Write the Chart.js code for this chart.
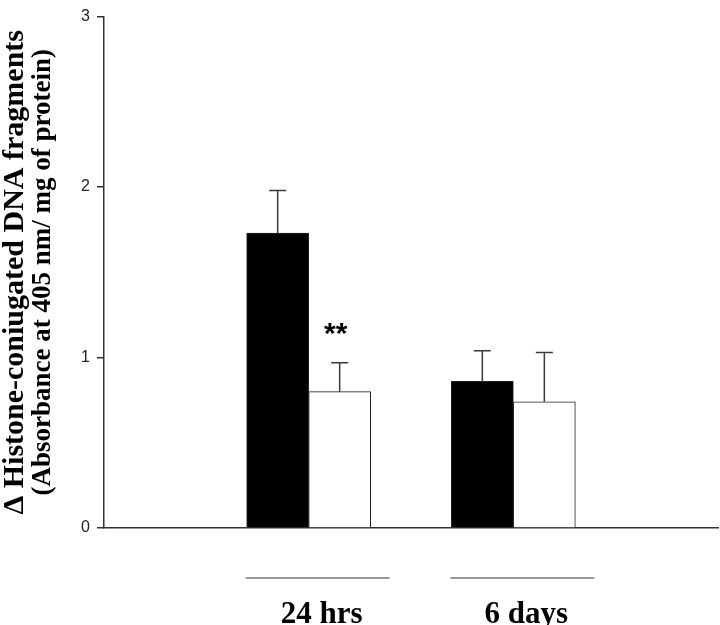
<!DOCTYPE html>
<html>
<head>
<meta charset="utf-8">
<script src="https://cdn.jsdelivr.net/npm/chart.js@4.4.1/dist/chart.umd.min.js"></script>
<style>
  html, body { margin: 0; padding: 0; background: #fff; }
  #wrap { width: 720px; height: 625px; }
</style>
</head>
<body>
<div id="wrap"><canvas id="fragChart" width="720" height="625"></canvas></div>
<script>
// values
const categories = ['24 hrs', '6 days'];
const categoryX = [1, 2];
const controlMeans = [1.73, 0.86];
const controlErrors = [0.25, 0.18];
const treatedMeans = [0.80, 0.74];
const treatedErrors = [0.17, 0.29];
const controlMarks = ['', ''];
const treatedMarks = ['**', ''];
const yTicks = [0, 1, 2, 3];

const titleLine1 = '\u0394 Histone-coniugated DNA fragments';
const titleLine2 = '(Absorbance at 405 nm/ mg of protein)';

const serif = '"Liberation Serif", "Times New Roman", serif';
const sans = '"Liberation Sans", Arial, sans-serif';
const labelShift = 13;

// upper error bars + significance marks
const errorBars = {
    id: 'errorBars',
    afterDatasetsDraw(chart) {
        const ctx = chart.ctx;
        const yScale = chart.scales.y;
        ctx.save();
        chart.data.datasets.forEach((ds, i) => {
            chart.getDatasetMeta(i).data.forEach((bar, j) => {
                const top = yScale.getPixelForValue(ds.means[j] + ds.errors[j]);
                ctx.strokeStyle = '#3a3a3a';
                ctx.lineWidth = 1.5;
                ctx.beginPath();
                ctx.moveTo(bar.x, bar.y);
                ctx.lineTo(bar.x, top);
                ctx.moveTo(bar.x - 8.5, top);
                ctx.lineTo(bar.x + 8.5, top);
                ctx.stroke();
                if (ds.marks[j]) {
                    ctx.fillStyle = '#000';
                    ctx.font = 'bold 30px ' + sans;
                    ctx.textAlign = 'center';
                    ctx.textBaseline = 'alphabetic';
                    ctx.fillText(ds.marks[j], bar.x - 4, top - 20);
                }
            });
        });
        ctx.restore();
    }
};

// short rule above each group label
const groupLines = {
    id: 'groupLines',
    afterDraw(chart) {
        const xScale = chart.scales.x;
        const ctx = chart.ctx;
        const y = chart.chartArea.bottom + 50;
        ctx.save();
        ctx.strokeStyle = '#7a7a7a';
        ctx.lineWidth = 1.5;
        xScale.ticks.forEach(t => {
            const px = xScale.getPixelForValue(t.value) + labelShift - 4;
            ctx.beginPath();
            ctx.moveTo(px - 72, y);
            ctx.lineTo(px + 72, y);
            ctx.stroke();
        });
        ctx.restore();
    }
};

new Chart(document.getElementById('fragChart'), {
    type: 'bar',
    data: {
        datasets: [{
            label: 'Control',
            data: categoryX.map((x, i) => ({ x: x, y: controlMeans[i] })),
            means: controlMeans,
            errors: controlErrors,
            marks: controlMarks,
            backgroundColor: '#000',
            borderColor: '#222',
            borderWidth: 1,
            barThickness: 62
        }, {
            label: 'Treated',
            data: categoryX.map((x, i) => ({ x: x, y: treatedMeans[i] })),
            means: treatedMeans,
            errors: treatedErrors,
            marks: treatedMarks,
            backgroundColor: '#fff',
            borderColor: '#222',
            borderWidth: 1,
            barThickness: 62
        }]
    },
    options: {
        responsive: false,
        animation: false,
        layout: { padding: { top: 11, right: 2, left: 0, bottom: 0 } },
        plugins: {
            legend: { display: false },
            tooltip: { enabled: false }
        },
        scales: {
            x: {
                type: 'linear',
                offset: false,
                min: 0,
                max: 3,
                grid: { display: false, offset: false },
                border: { display: true, color: '#333', width: 1.5 },
                afterBuildTicks: axis => { axis.ticks = categoryX.map(v => ({ value: v })); },
                afterFit: axis => { axis.height = 97; },
                ticks: {
                    padding: 63,
                    labelOffset: labelShift,
                    color: '#000',
                    font: { family: serif, size: 31, weight: 'bold', lineHeight: 1 },
                    callback: (value, index) => categories[index]
                }
            },
            y: {
                min: yTicks[0],
                max: yTicks[yTicks.length - 1],
                grid: { display: true, drawOnChartArea: false, drawTicks: true, tickLength: 7, color: '#333', lineWidth: 1.5 },
                border: { display: true, color: '#333', width: 1.5 },
                afterBuildTicks: axis => { axis.ticks = yTicks.map(v => ({ value: v })); },
                afterFit: axis => { axis.width = 74; },
                ticks: {
                    padding: 7,
                    color: '#222',
                    font: { family: sans, size: 16 }
                },
                title: {
                    display: true,
                    text: titleLine2,
                    color: '#000',
                    padding: 0,
                    font: { family: serif, size: 27, weight: 'bold', lineHeight: 1 }
                }
            },
            yTitle: {
                type: 'linear',
                position: 'left',
                weight: 10,
                grid: { display: false },
                border: { display: false },
                ticks: { display: false },
                afterFit: axis => { axis.width = 30; },
                title: {
                    display: true,
                    text: titleLine1,
                    color: '#000',
                    padding: 0,
                    font: { family: serif, size: 30, weight: 'bold', lineHeight: 1 }
                }
            }
        }
    },
    plugins: [errorBars, groupLines]
});
</script>
</body>
</html>
